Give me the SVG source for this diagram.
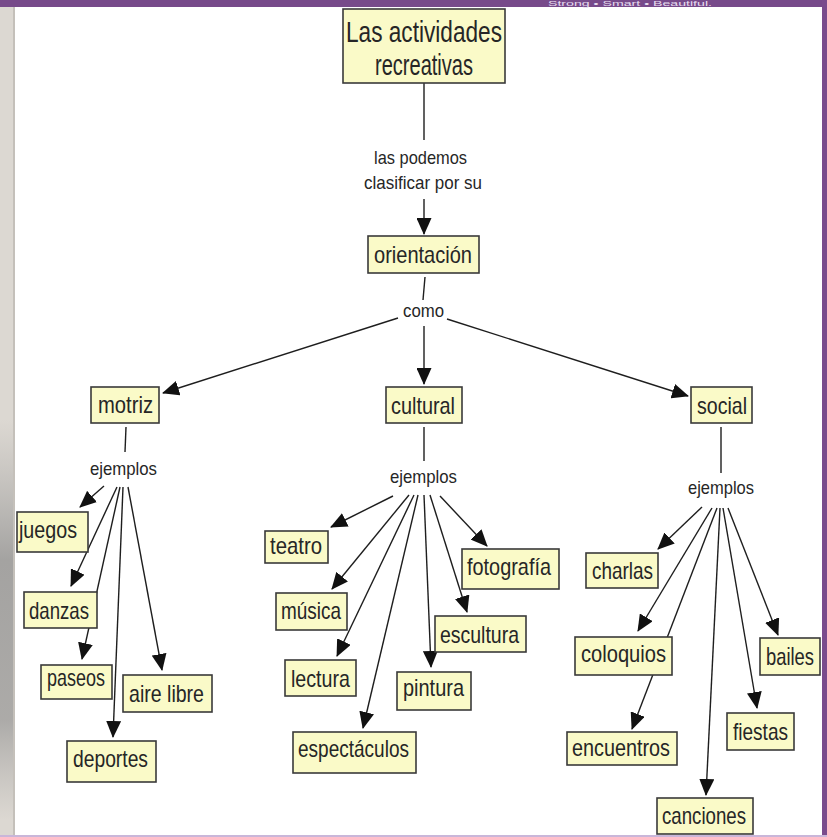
<svg xmlns="http://www.w3.org/2000/svg" width="827" height="837" viewBox="0 0 827 837">
<defs>
<style>
.box{fill:#fafac8;stroke:#3a3a3a;stroke-width:1.6}
.nt{font-family:"Liberation Sans",Arial,sans-serif;font-size:24px;fill:#262626}
.tt{font-family:"Liberation Sans",Arial,sans-serif;font-size:29px;fill:#262626}
.lb{font-family:"Liberation Sans",Arial,sans-serif;font-size:18.5px;fill:#262626}
.ln{stroke:#1e1e1e;stroke-width:1.4;fill:none}
.ar{marker-end:url(#ah)}
</style>
<marker id="ah" markerUnits="userSpaceOnUse" markerWidth="18" markerHeight="15" refX="16" refY="7.5" orient="auto">
<path d="M0,0 L17,7.5 L0,15 z" fill="#111"/>
</marker>
<linearGradient id="shade" x1="0" y1="0" x2="0" y2="1">
<stop offset="0" stop-color="#9a9a9a" stop-opacity="0"/>
<stop offset="0.35" stop-color="#8c8c8c" stop-opacity="0.7"/>
<stop offset="0.75" stop-color="#8c8c8c" stop-opacity="0.6"/>
<stop offset="1" stop-color="#9a9a9a" stop-opacity="0"/>
</linearGradient>
</defs>

<g id="frame">
<rect x="0" y="0" width="827" height="837" fill="#ffffff"/>
<rect x="0" y="0" width="15" height="837" fill="#dcd8d2"/>
<rect x="0" y="420" width="13" height="400" fill="url(#shade)"/>
<rect x="13" y="0" width="2" height="837" fill="#c4c0ba"/>
<rect x="0" y="0" width="827" height="7" fill="#774a8a"/>
<rect x="822" y="0" width="5" height="837" fill="#7a4b8c"/>
<rect x="0" y="835" width="827" height="2" fill="#c9b6d9"/>
<text x="548" y="6" font-family="Liberation Sans,Arial,sans-serif" font-size="6.5" fill="#e6dcef" textLength="164" lengthAdjust="spacingAndGlyphs">Strong • Smart • Beautiful.</text>
</g>

<g id="connectors">
<line class="ln" x1="424" y1="83" x2="424" y2="140"/>
<line class="ln ar" x1="424" y1="199" x2="424" y2="234"/>
<line class="ln" x1="425" y1="277" x2="423" y2="300"/>
<line class="ln ar" x1="398" y1="318" x2="163" y2="393"/>
<line class="ln ar" x1="424" y1="326" x2="424" y2="384"/>
<line class="ln ar" x1="447" y1="319" x2="688" y2="396"/>
<line class="ln" x1="126" y1="427" x2="125" y2="452"/>
<line class="ln ar" x1="104" y1="486" x2="80" y2="507"/>
<line class="ln ar" x1="117" y1="487" x2="71" y2="586"/>
<line class="ln ar" x1="120" y1="487" x2="82" y2="659"/>
<line class="ln ar" x1="123" y1="487" x2="113" y2="737"/>
<line class="ln ar" x1="128" y1="487" x2="162" y2="670"/>
<line class="ln" x1="424" y1="427" x2="424" y2="461"/>
<line class="ln ar" x1="393" y1="496" x2="331" y2="527"/>
<line class="ln ar" x1="409" y1="495" x2="332" y2="589"/>
<line class="ln ar" x1="414" y1="495" x2="337" y2="656"/>
<line class="ln ar" x1="418" y1="495" x2="363" y2="728"/>
<line class="ln ar" x1="424" y1="495" x2="431" y2="667"/>
<line class="ln ar" x1="430" y1="495" x2="467" y2="612"/>
<line class="ln ar" x1="440" y1="496" x2="487" y2="546"/>
<line class="ln" x1="721" y1="427" x2="721" y2="473"/>
<line class="ln ar" x1="702" y1="507" x2="658" y2="549"/>
<line class="ln ar" x1="712" y1="508" x2="638" y2="631"/>
<line class="ln ar" x1="717" y1="508" x2="632" y2="729"/>
<line class="ln ar" x1="720" y1="508" x2="706" y2="795"/>
<line class="ln ar" x1="723" y1="508" x2="757" y2="708"/>
<line class="ln ar" x1="728" y1="508" x2="778" y2="635"/>
</g>

<g id="labels">
<text class="lb" x="374" y="164" textLength="93" lengthAdjust="spacingAndGlyphs">las podemos</text>
<text class="lb" x="364" y="189" textLength="118" lengthAdjust="spacingAndGlyphs">clasificar por su</text>
<text class="lb" x="403" y="317" textLength="41" lengthAdjust="spacingAndGlyphs">como</text>
<text class="lb" x="90" y="475" textLength="67" lengthAdjust="spacingAndGlyphs">ejemplos</text>
<text class="lb" x="390" y="483" textLength="67" lengthAdjust="spacingAndGlyphs">ejemplos</text>
<text class="lb" x="688" y="494" textLength="66" lengthAdjust="spacingAndGlyphs">ejemplos</text>
</g>

<g id="n-title"><rect class="box" x="343" y="9" width="162" height="74"/>
<text class="tt" x="346" y="42" textLength="156" lengthAdjust="spacingAndGlyphs">Las actividades</text>
<text class="tt" x="375" y="75" textLength="98" lengthAdjust="spacingAndGlyphs">recreativas</text></g>
<g id="n-orientacion"><rect class="box" x="368" y="236" width="111" height="37"/>
<text class="nt" x="374" y="263" textLength="98" lengthAdjust="spacingAndGlyphs">orientación</text></g>

<g id="n-motriz"><rect class="box" x="91" y="387" width="68" height="36"/>
<text class="nt" x="98" y="413" textLength="55" lengthAdjust="spacingAndGlyphs">motriz</text></g>
<g id="n-cultural"><rect class="box" x="386" y="387" width="76" height="36"/>
<text class="nt" x="391" y="414" textLength="64" lengthAdjust="spacingAndGlyphs">cultural</text></g>
<g id="n-social"><rect class="box" x="691" y="387" width="61" height="36"/>
<text class="nt" x="697" y="414" textLength="50" lengthAdjust="spacingAndGlyphs">social</text></g>

<g id="n-juegos"><rect class="box" x="17" y="512" width="71" height="40"/>
<text class="nt" x="19" y="538" textLength="58" lengthAdjust="spacingAndGlyphs">juegos</text></g>
<g id="n-danzas"><rect class="box" x="24" y="592" width="73" height="36"/>
<text class="nt" x="29" y="619" textLength="60" lengthAdjust="spacingAndGlyphs">danzas</text></g>
<g id="n-paseos"><rect class="box" x="41" y="665" width="71" height="34"/>
<text class="nt" x="47" y="686" textLength="58" lengthAdjust="spacingAndGlyphs">paseos</text></g>
<g id="n-airelibre"><rect class="box" x="123" y="675" width="89" height="37"/>
<text class="nt" x="129" y="702" textLength="75" lengthAdjust="spacingAndGlyphs">aire libre</text></g>
<g id="n-deportes"><rect class="box" x="67" y="741" width="89" height="41"/>
<text class="nt" x="73" y="767" textLength="75" lengthAdjust="spacingAndGlyphs">deportes</text></g>

<g id="n-teatro"><rect class="box" x="265" y="531" width="63" height="32"/>
<text class="nt" x="270" y="554" textLength="52" lengthAdjust="spacingAndGlyphs">teatro</text></g>
<g id="n-musica"><rect class="box" x="276" y="593" width="71" height="37"/>
<text class="nt" x="281" y="619" textLength="60" lengthAdjust="spacingAndGlyphs">música</text></g>
<g id="n-lectura"><rect class="box" x="285" y="660" width="71" height="36"/>
<text class="nt" x="291" y="687" textLength="59" lengthAdjust="spacingAndGlyphs">lectura</text></g>
<g id="n-espectaculos"><rect class="box" x="293" y="732" width="123" height="41"/>
<text class="nt" x="298" y="757" textLength="111" lengthAdjust="spacingAndGlyphs">espectáculos</text></g>
<g id="n-pintura"><rect class="box" x="397" y="672" width="74" height="38"/>
<text class="nt" x="403" y="696" textLength="61" lengthAdjust="spacingAndGlyphs">pintura</text></g>
<g id="n-escultura"><rect class="box" x="435" y="616" width="91" height="36"/>
<text class="nt" x="440" y="643" textLength="79" lengthAdjust="spacingAndGlyphs">escultura</text></g>
<g id="n-fotografia"><rect class="box" x="462" y="549" width="97" height="40"/>
<text class="nt" x="467" y="575" textLength="84" lengthAdjust="spacingAndGlyphs">fotografía</text></g>

<g id="n-charlas"><rect class="box" x="586" y="553" width="72" height="35"/>
<text class="nt" x="592" y="579" textLength="61" lengthAdjust="spacingAndGlyphs">charlas</text></g>
<g id="n-coloquios"><rect class="box" x="575" y="637" width="97" height="38"/>
<text class="nt" x="581" y="662" textLength="85" lengthAdjust="spacingAndGlyphs">coloquios</text></g>
<g id="n-encuentros"><rect class="box" x="567" y="732" width="110" height="33"/>
<text class="nt" x="572" y="756" textLength="98" lengthAdjust="spacingAndGlyphs">encuentros</text></g>
<g id="n-canciones"><rect class="box" x="657" y="798" width="96" height="36"/>
<text class="nt" x="662" y="824" textLength="84" lengthAdjust="spacingAndGlyphs">canciones</text></g>
<g id="n-fiestas"><rect class="box" x="727" y="713" width="67" height="37"/>
<text class="nt" x="733" y="740" textLength="55" lengthAdjust="spacingAndGlyphs">fiestas</text></g>
<g id="n-bailes"><rect class="box" x="760" y="638" width="60" height="37"/>
<text class="nt" transform="translate(766,665) scale(0.766,1)" x="0" y="0">bailes</text></g>
</svg>
